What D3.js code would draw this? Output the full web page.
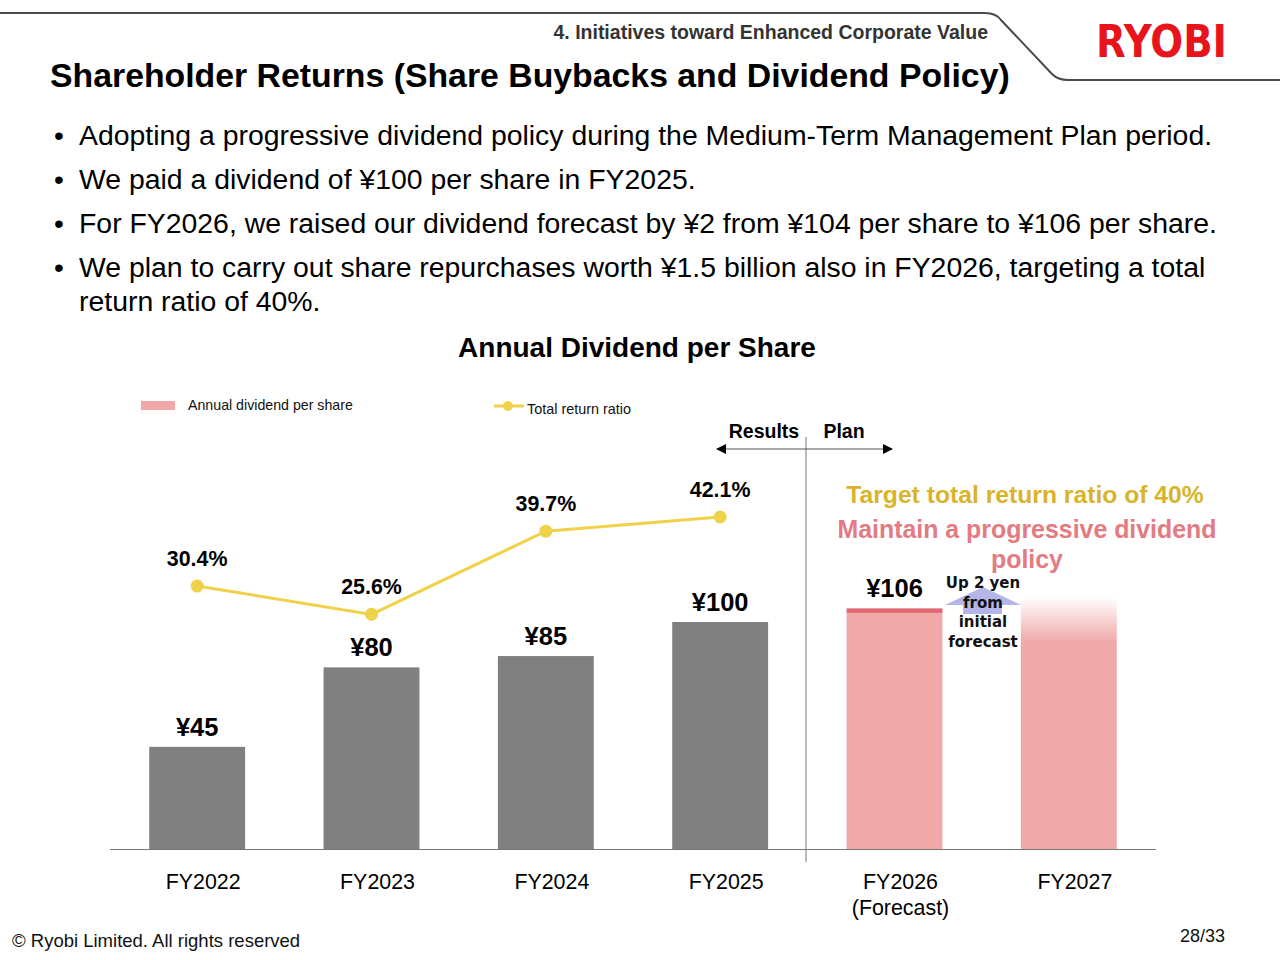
<!DOCTYPE html>
<html>
<head>
<meta charset="utf-8">
<script src="https://cdn.jsdelivr.net/npm/d3@7"></script>
<style>
  body { margin: 0; background: #fff; }
  svg { display: block; font-family: "Liberation Sans", Arial, sans-serif; }
</style>
</head>
<body>
<div id="main"></div>
<script>
// chart data
const years = ['FY2022', 'FY2023', 'FY2024', 'FY2025', 'FY2026', 'FY2027'];
const yearNotes = ['', '', '', '', '(Forecast)', ''];
const dividend = [45, 80, 85, 100, 106, 111];   // FY2027 = plan bar, no label
const dividendLabels = ['¥45', '¥80', '¥85', '¥100', '¥106', ''];
const initialForecast = 104;                    // FY2026 initial forecast
const returnYears = ['FY2022', 'FY2023', 'FY2024', 'FY2025'];
const totalReturn = [30.4, 25.6, 39.7, 42.1];
const bullets = [
  ['Adopting a progressive dividend policy during the Medium-Term Management Plan period.'],
  ['We paid a dividend of ¥100 per share in FY2025.'],
  ['For FY2026, we raised our dividend forecast by ¥2 from ¥104 per share to ¥106 per share.'],
  ['We plan to carry out share repurchases worth ¥1.5 billion also in FY2026, targeting a total', 'return ratio of 40%.']
];

const gray = '#808080', pink = '#f0a8a8', darkPink = '#e06870', gold = '#f0d24a';

const svg = d3.select('#main').append('svg').attr('width', 1280).attr('height', 960);

// ---- header
svg.append('path')
  .attr('d', 'M0,13 L985,13 Q996,13 1001,20 L1052,74 Q1058,80 1068,80 L1280,80')
  .attr('fill', 'none').attr('stroke', '#4a4a4a').attr('stroke-width', 2);

svg.append('text').attr('x', 988).attr('y', 39).attr('text-anchor', 'end')
  .attr('font-size', 19.5).attr('font-weight', 'bold').attr('fill', '#333')
  .text('4. Initiatives toward Enhanced Corporate Value');

svg.append('text').attr('x', 50).attr('y', 87)
  .attr('font-size', 33.8).attr('font-weight', 'bold').attr('fill', '#000')
  .text('Shareholder Returns (Share Buybacks and Dividend Policy)');

svg.append('text').attr('x', 1096).attr('y', 57)
  .attr('font-size', 44).attr('font-weight', 'bold').attr('fill', '#e8141c')
  .attr('textLength', 131).attr('lengthAdjust', 'spacingAndGlyphs')
  .attr('font-family', '"DejaVu Sans", sans-serif')
  .text('RYOBI');

// ---- bullets
let by = 145;
bullets.forEach(lines => {
  svg.append('text').attr('x', 54).attr('y', by).attr('font-size', 28).text('•');
  lines.forEach((l, i) => {
    svg.append('text').attr('x', 79).attr('y', by + i * 34).attr('font-size', 28.4).attr('fill', '#000').text(l);
  });
  by += 44 + (lines.length - 1) * 34;
});

// ---- chart title
svg.append('text').attr('x', 637).attr('y', 357).attr('text-anchor', 'middle')
  .attr('font-size', 28).attr('font-weight', 'bold').text('Annual Dividend per Share');

// ---- scales
const x = d3.scaleBand().domain(years).range([110, 1156]).paddingInner(0.45).paddingOuter(0.225);
const y = d3.scaleLinear().domain([0, 100]).range([849, 622]);
const y2 = d3.scaleLinear().domain([0, 40]).range([765.4, 529.4]);

// gradient for plan bar
const grad = svg.append('defs').append('linearGradient').attr('id', 'planFade')
  .attr('x1', 0).attr('y1', 0).attr('x2', 0).attr('y2', 1);
grad.append('stop').attr('offset', 0).attr('stop-color', pink).attr('stop-opacity', 0);
grad.append('stop').attr('offset', 0.18).attr('stop-color', pink).attr('stop-opacity', 1);
grad.append('stop').attr('offset', 1).attr('stop-color', pink).attr('stop-opacity', 1);

// ---- bars
const bars = svg.append('g');
bars.selectAll('rect.bar').data(years).join('rect').attr('class', 'bar')
  .attr('x', d => x(d)).attr('width', x.bandwidth())
  .attr('y', (d, i) => y(i === 4 ? initialForecast : dividend[i]))
  .attr('height', (d, i) => y(0) - y(i === 4 ? initialForecast : dividend[i]))
  .attr('fill', (d, i) => i < 4 ? gray : (i === 4 ? pink : 'url(#planFade)'));

// FY2026 increase segment
bars.append('rect').attr('x', x('FY2026')).attr('width', x.bandwidth())
  .attr('y', y(dividend[4])).attr('height', y(initialForecast) - y(dividend[4]))
  .attr('fill', darkPink);

bars.selectAll('text.val').data(years).join('text').attr('class', 'val')
  .attr('x', d => x(d) + x.bandwidth() / 2)
  .attr('y', (d, i) => y(dividend[i]) - 11)
  .attr('text-anchor', 'middle').attr('font-size', 25.5).attr('font-weight', 'bold')
  .text((d, i) => dividendLabels[i]);

// ---- x axis
const xAxis = d3.axisBottom(x).tickSize(0).tickPadding(25);
const ax = svg.append('g').attr('transform', `translate(0,${y(0)})`).call(xAxis);
ax.select('.domain').attr('stroke', '#777').attr('stroke-width', 1.2).attr('d', 'M110,0.5H1156');
ax.selectAll('.tick text').attr('font-size', 21.4).attr('fill', '#000')
  .attr('font-family', '"Liberation Sans", Arial, sans-serif').attr('dx', 6);
ax.selectAll('.tick').append('text')
  .attr('y', 66).attr('dx', 6).attr('text-anchor', 'middle').attr('font-size', 21.4).attr('fill', '#000')
  .text((d, i) => yearNotes[i]);

// ---- results / plan divider
svg.append('line').attr('x1', 806).attr('x2', 806).attr('y1', 437).attr('y2', 862)
  .attr('stroke', '#777').attr('stroke-width', 1);
const mk = svg.select('defs').append('marker').attr('id', 'ah').attr('viewBox', '0 0 10 10')
  .attr('refX', 9).attr('refY', 5).attr('markerWidth', 10).attr('markerHeight', 10)
  .attr('markerUnits', 'userSpaceOnUse').attr('orient', 'auto-start-reverse');
mk.append('path').attr('d', 'M0,0 L10,5 L0,10 Z').attr('fill', '#000');
svg.append('line').attr('x1', 717).attr('x2', 892).attr('y1', 449).attr('y2', 449)
  .attr('stroke', '#555').attr('stroke-width', 1)
  .attr('marker-start', 'url(#ah)').attr('marker-end', 'url(#ah)');
svg.append('text').attr('x', 764).attr('y', 438).attr('text-anchor', 'middle')
  .attr('font-size', 19.5).attr('font-weight', 'bold').text('Results');
svg.append('text').attr('x', 844).attr('y', 438).attr('text-anchor', 'middle')
  .attr('font-size', 19.5).attr('font-weight', 'bold').text('Plan');

// ---- total return ratio line
const cx = d => x(d) + x.bandwidth() / 2;
const line = d3.line().x((d, i) => cx(returnYears[i])).y(d => y2(d));
svg.append('path').datum(totalReturn).attr('d', line)
  .attr('fill', 'none').attr('stroke', gold).attr('stroke-width', 3);
svg.selectAll('circle.pt').data(totalReturn).join('circle').attr('class', 'pt')
  .attr('cx', (d, i) => cx(returnYears[i])).attr('cy', d => y2(d)).attr('r', 6.5).attr('fill', gold);
svg.selectAll('text.pct').data(totalReturn).join('text').attr('class', 'pct')
  .attr('x', (d, i) => cx(returnYears[i])).attr('y', d => y2(d) - 20)
  .attr('text-anchor', 'middle').attr('font-size', 21.4).attr('font-weight', 'bold')
  .text(d => d.toFixed(1) + '%');

// ---- legend
svg.append('rect').attr('x', 141).attr('y', 401).attr('width', 34).attr('height', 9).attr('fill', pink);
svg.append('text').attr('x', 188).attr('y', 410).attr('font-size', 14.2).attr('fill', '#111').text('Annual dividend per share');
svg.append('line').attr('x1', 494).attr('x2', 524).attr('y1', 406).attr('y2', 406).attr('stroke', gold).attr('stroke-width', 3);
svg.append('circle').attr('cx', 508).attr('cy', 406).attr('r', 5).attr('fill', gold);
svg.append('text').attr('x', 527).attr('y', 414).attr('font-size', 14.4).attr('fill', '#111').text('Total return ratio');

// ---- annotations
svg.append('text').attr('x', 1025).attr('y', 503).attr('text-anchor', 'middle')
  .attr('font-size', 24.7).attr('font-weight', 'bold').attr('fill', '#d9b42a')
  .text('Target total return ratio of 40%');
svg.append('text').attr('x', 1027).attr('y', 538).attr('text-anchor', 'middle')
  .attr('font-size', 24.9).attr('font-weight', 'bold').attr('fill', '#e47a82')
  .text('Maintain a progressive dividend');
svg.append('text').attr('x', 1027).attr('y', 568).attr('text-anchor', 'middle')
  .attr('font-size', 24.9).attr('font-weight', 'bold').attr('fill', '#e47a82')
  .text('policy');

// up arrow
svg.append('path')
  .attr('d', 'M945,605 L983,587 L1021,605 L1002,605 L1002,614 L963,614 L963,605 Z')
  .attr('fill', '#b4b6ea');
const upText = ['Up 2 yen', 'from', 'initial', 'forecast'];
svg.selectAll('text.up').data(upText).join('text').attr('class', 'up')
  .attr('x', 983).attr('y', (d, i) => 588 + i * 19.5).attr('text-anchor', 'middle')
  .attr('font-family', '"DejaVu Sans", Verdana, sans-serif')
  .attr('font-size', 15).attr('font-weight', 'bold').attr('fill', '#111')
  .text(d => d);

// ---- footer
svg.append('text').attr('x', 12).attr('y', 947).attr('font-size', 18.5).attr('fill', '#111')
  .text('© Ryobi Limited. All rights reserved');
svg.append('text').attr('x', 1225).attr('y', 942).attr('text-anchor', 'end').attr('font-size', 18).attr('fill', '#111')
  .text('28/33');
</script>
</body>
</html>
